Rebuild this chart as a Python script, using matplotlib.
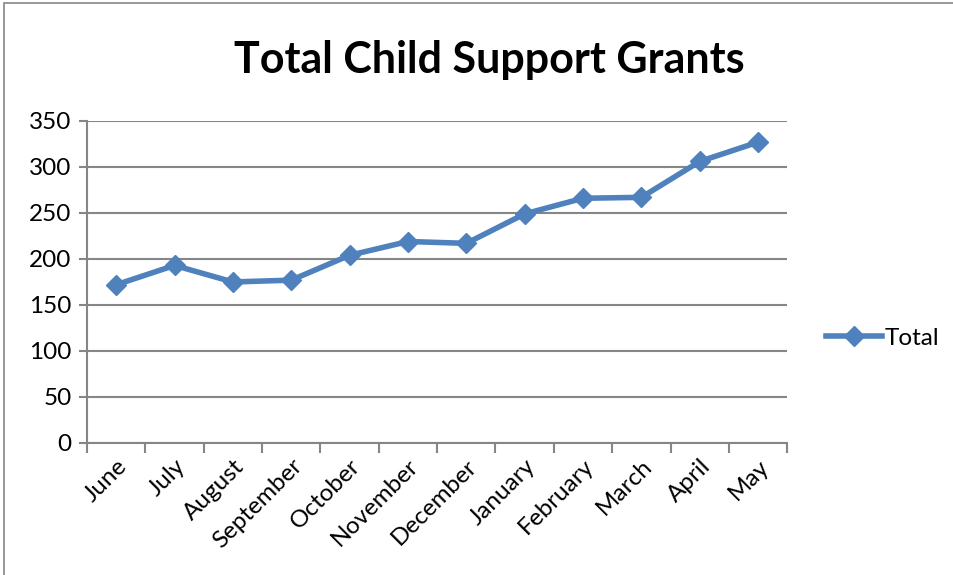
import matplotlib
matplotlib.use("Agg")
import matplotlib.pyplot as plt
from matplotlib.patches import Rectangle

months = ["June", "July", "August", "September", "October", "November",
          "December", "January", "February", "March", "April", "May"]
totals = [172, 193, 175, 177, 204, 219, 217, 249, 266, 267, 306, 327]
yticks = [0, 50, 100, 150, 200, 250, 300, 350]

plt.rcParams['font.family'] = ['Lato', 'DejaVu Sans']

fig = plt.figure(figsize=(9.54, 5.75), dpi=100)
ax = fig.add_axes([0.0912, 0.2296, 0.734, 0.56])

grid_c = "#868686"
blue = "#4F81BD"
x = list(range(len(months)))
line, = ax.plot(x, totals, color=blue, lw=4, marker="D", markersize=10.5,
                markeredgecolor=blue, markerfacecolor=blue, label="Total", zorder=3)

ax.set_xlim(-0.5, len(months) - 0.5)
ax.set_ylim(0, 350)
ax.set_yticks(yticks)
ax.set_yticklabels([str(v) for v in yticks], fontsize=17.5)
ax.yaxis.grid(True, color=grid_c, lw=1.5)
ax.set_axisbelow(True)

ax.set_xticks(x)
ax.set_xticklabels(months, rotation=45, ha="right", rotation_mode="anchor", fontsize=17.5)
ax.tick_params(axis="x", length=0, pad=9)
ax.set_xticks([i - 0.5 for i in range(len(months) + 1)], minor=True)
ax.tick_params(axis="x", which="minor", length=7, width=1.5, color=grid_c)
ax.tick_params(axis="y", length=6, width=1.5, color=grid_c, pad=5)

for s in ["top", "right"]:
    ax.spines[s].set_visible(False)
for s in ["left", "bottom"]:
    ax.spines[s].set_color(grid_c)
    ax.spines[s].set_linewidth(1.5)

fig.text(0.513, 1 - 60 / 575, "Total Child Support Grants", fontsize=31,
         fontweight="bold", ha="center", va="center")

fig.legend(handles=[line], loc="center left",
           bbox_to_anchor=(826 / 954, 1 - 338 / 575),
           frameon=False, fontsize=17.5, handlelength=2.3, handletextpad=0.12,
           borderaxespad=0, borderpad=0)

fig.patches.append(Rectangle((0.004, -0.1), 1.2, 1.095, transform=fig.transFigure,
                             fill=False, edgecolor=grid_c, lw=1.2))

fig.savefig("out.png", dpi=100)
